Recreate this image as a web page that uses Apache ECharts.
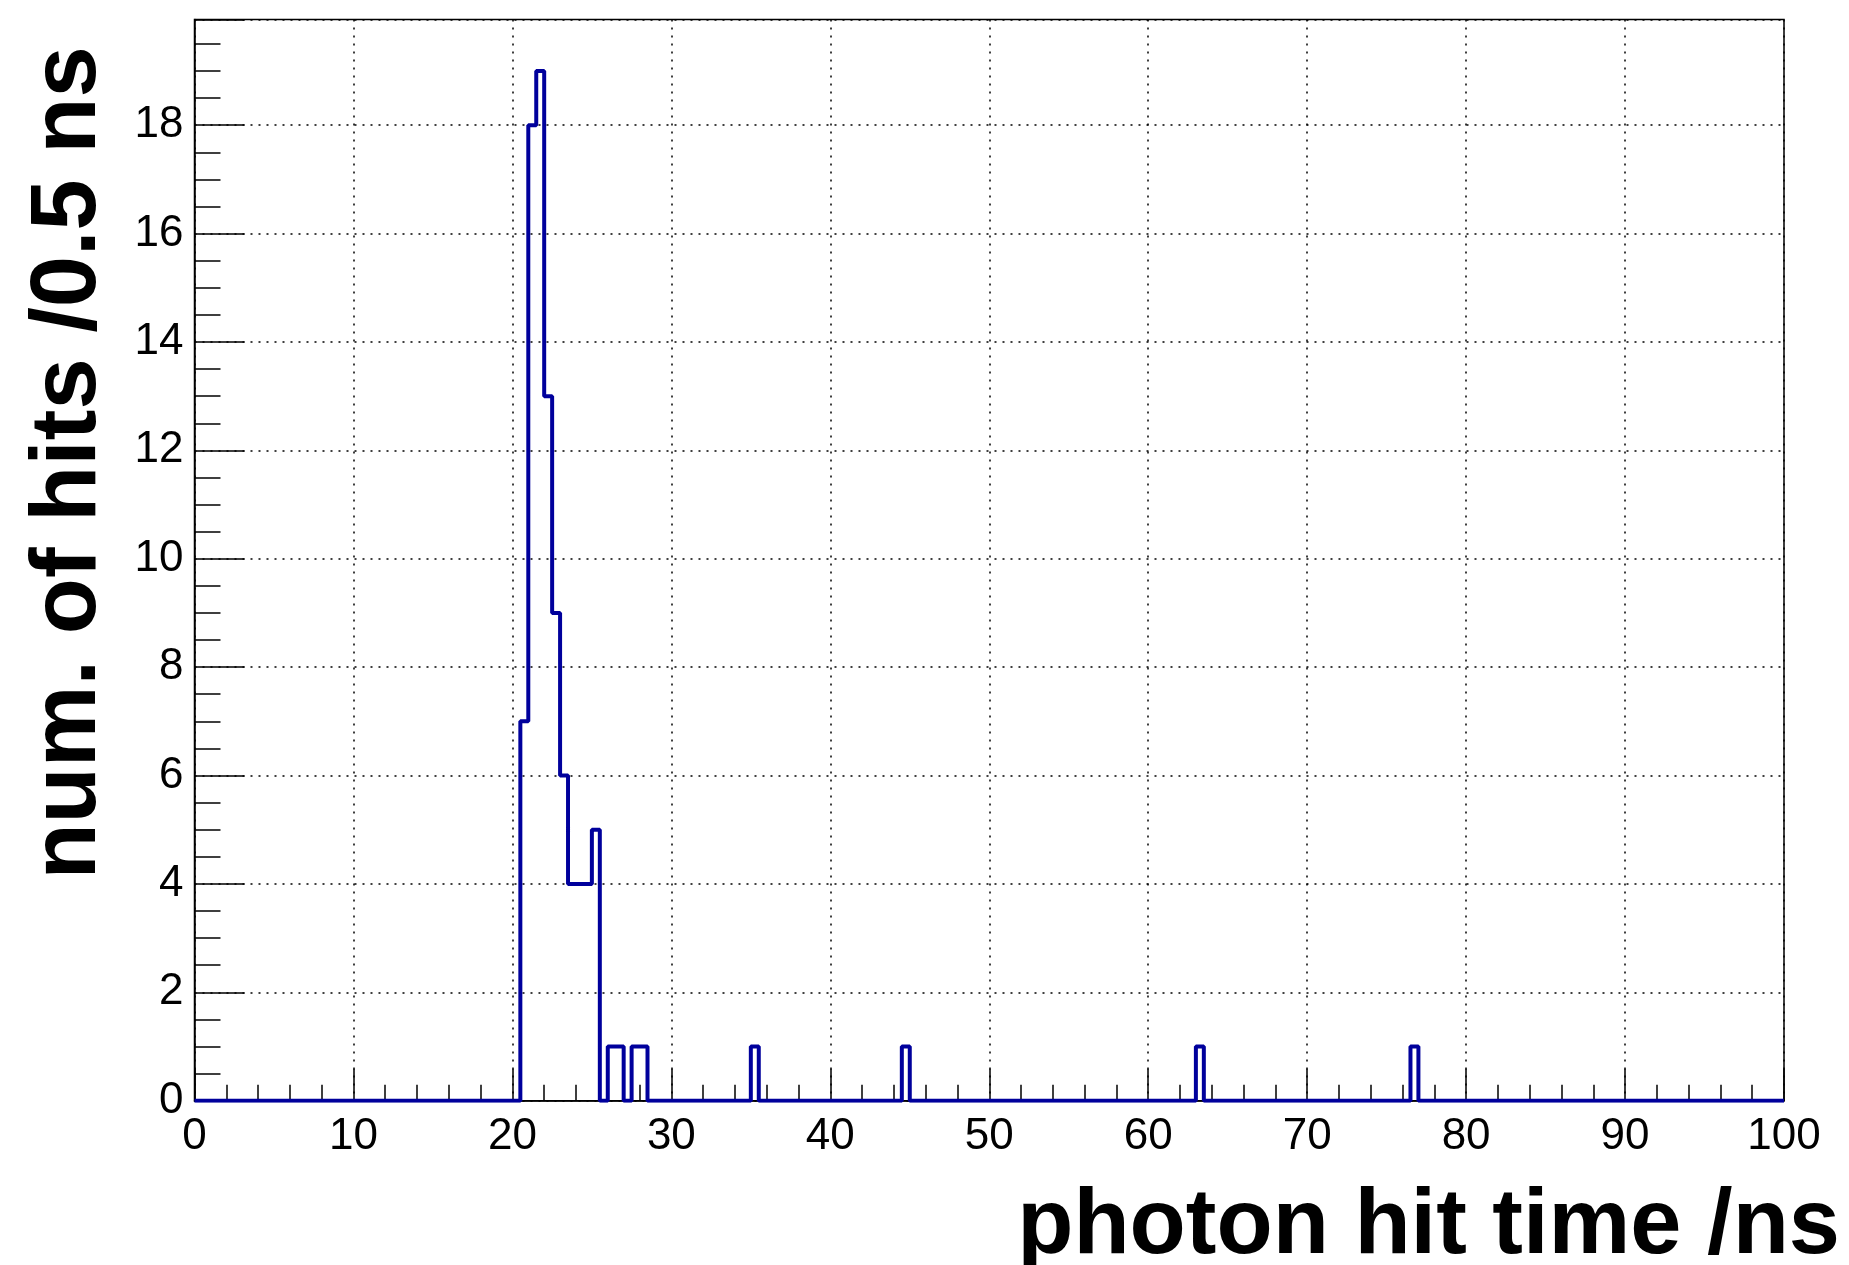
<!DOCTYPE html>
<html>
<head>
<meta charset="utf-8">
<script src="https://cdn.jsdelivr.net/npm/echarts@6/dist/echarts.min.js"></script>
<style>
  html, body { margin: 0; padding: 0; background: #fff; }
  #chart { width: 1849px; height: 1265px; }
</style>
</head>
<body>
<div id="chart"></div>
<script>
// ---- data (histogram, 0.5 ns bins from 0 to 100 ns; only non-empty bins listed) ----
const binWidth = 0.5;
const xMin = 0;
const xMax = 100;
const binStarts = [20.5, 21, 21.5, 22, 22.5, 23, 23.5, 24, 24.5, 25, 26, 26.5, 27.5, 28, 35, 44.5, 63, 76.5];
const binCounts = [7, 18, 19, 13, 9, 6, 4, 4, 4, 5, 1, 1, 1, 1, 1, 1, 1, 1];
const yMax = 19.95;
const xTickStep = 10;
const yTickStep = 2;
const xTitle = 'photon hit time /ns';
const yTitle = 'num. of hits /0.5 ns';

// build full bin table from the listed bins
const nBins = Math.round((xMax - xMin) / binWidth);
const counts = new Array(nBins).fill(0);
binStarts.forEach((s, k) => { counts[Math.round((s - xMin) / binWidth)] = binCounts[k]; });
const stepData = counts.map((c, i) => [xMin + i * binWidth, c]);
stepData.push([xMax, counts[nBins - 1]]);

const FONT = "'Liberation Sans', Arial, Helvetica, sans-serif";
const TITLE_SIZE = 92;
const chart = echarts.init(document.getElementById('chart'), null, { renderer: 'canvas' });
const option = {
  animation: false,
  backgroundColor: '#fff',
  grid: {
    left: 194.5, right: 65, top: 19.5, bottom: 164.3,
    containLabel: false, outerBoundsMode: 'none',
    show: true, borderColor: '#000', borderWidth: 1.5, backgroundColor: 'transparent'
  },
  xAxis: {
    type: 'value', min: xMin, max: xMax, interval: xTickStep,
    axisLine: { show: true, onZero: false, lineStyle: { color: '#000', width: 1.5 } },
    axisTick: { show: true, inside: true, length: 32, lineStyle: { color: '#000', width: 1.5 } },
    minorTick: { show: true, splitNumber: 5, length: 16, lineStyle: { color: '#000', width: 1.5 } },
    axisLabel: { color: '#000', fontSize: 44, fontFamily: FONT, margin: 14 },
    splitLine: { show: true, lineStyle: { color: '#000', width: 1.5, type: [2, 6] } }
  },
  yAxis: {
    type: 'value', min: 0, max: yMax, interval: yTickStep,
    axisLine: { show: true, onZero: false, lineStyle: { color: '#000', width: 1.5 } },
    axisTick: { show: true, inside: true, length: 50, lineStyle: { color: '#000', width: 1.5 } },
    minorTick: { show: true, splitNumber: 4, length: 26, lineStyle: { color: '#000', width: 1.5 } },
    axisLabel: { color: '#000', fontSize: 44, fontFamily: FONT, margin: 11, showMaxLabel: false },
    splitLine: { show: true, lineStyle: { color: '#000', width: 1.5, type: [2, 6] } }
  },
  graphic: [
    {
      type: 'text', silent: true, x: 1840, y: 1228,
      style: {
        text: xTitle, fill: '#000', fontSize: TITLE_SIZE, fontWeight: 'bold', fontFamily: FONT,
        align: 'right', verticalAlign: 'middle'
      }
    },
    {
      type: 'text', silent: true, x: 70, y: 463, rotation: Math.PI / 2,
      style: {
        text: yTitle, fill: '#000', fontSize: TITLE_SIZE, fontWeight: 'bold', fontFamily: FONT,
        align: 'center', verticalAlign: 'middle'
      }
    }
  ],
  series: [{
    type: 'line', step: 'end', data: stepData, symbol: 'none', z: 5,
    lineStyle: { color: '#00009c', width: 4 }
  }]
};
chart.setOption(option);
</script>
</body>
</html>
